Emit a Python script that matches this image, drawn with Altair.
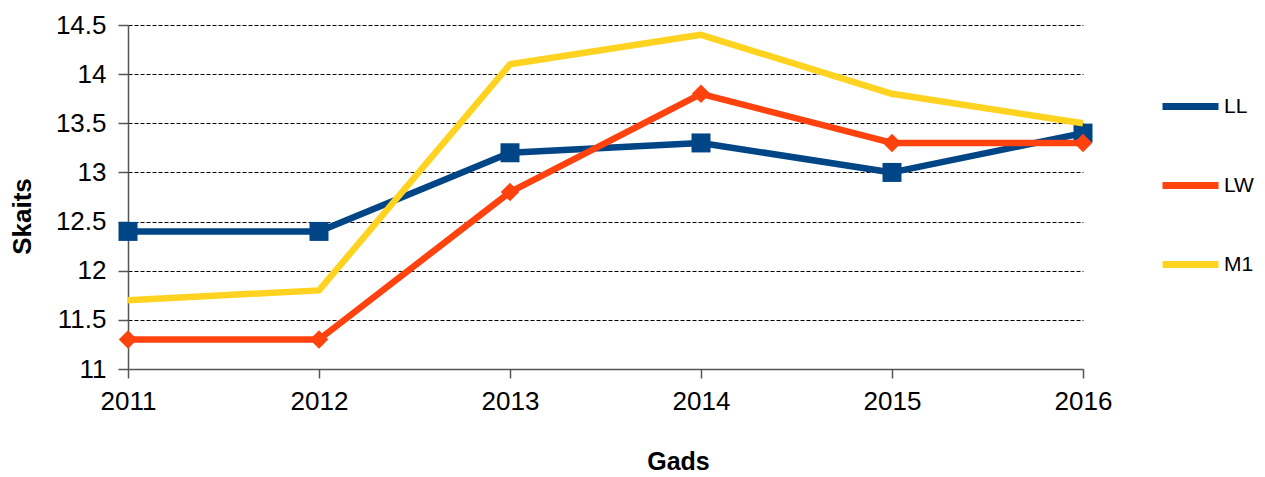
import altair as alt
import pandas as pd

years = [2011, 2012, 2013, 2014, 2015, 2016]
series_names = ["LL", "LW", "M1"]
ll = [12.4, 12.4, 13.2, 13.3, 13.0, 13.4]
lw = [11.3, 11.3, 12.8, 13.8, 13.3, 13.3]
m1 = [11.7, 11.8, 14.1, 14.4, 13.8, 13.5]
colors = ["#004586", "#ff420e", "#ffd320"]
y_ticks = [11, 11.5, 12, 12.5, 13, 13.5, 14, 14.5]

rows = []
for name, vals in zip(series_names, [ll, lw, m1]):
    for y, v in zip(years, vals):
        rows.append({"Gads": y, "Skaits": v, "Series": name})
df = pd.DataFrame(rows)

FONT = "Liberation Sans"

x_enc = alt.X("Gads:Q",
              scale=alt.Scale(domain=[2011, 2016], nice=False, zero=False),
              axis=alt.Axis(values=years, format="d", title="Gads", grid=False,
                            labelFontSize=26, titleFontSize=25, titleFontWeight="bold",
                            labelColor="#000", titleColor="#000", labelFlush=False,
                            domainColor="#555", tickColor="#555", domainWidth=1.5, tickWidth=1.5,
                            tickSize=9, labelPadding=10,
                            titleX=550, titleY=92, titleBaseline="middle"))
y_enc = alt.Y("Skaits:Q",
              scale=alt.Scale(domain=[11, 14.5], nice=False, zero=False),
              axis=alt.Axis(values=y_ticks, format="~g", title="Skaits",
                            grid=True, gridColor="#000", gridDash=[4, 2], gridWidth=1,
                            labelFontSize=26, titleFontSize=26, titleFontWeight="bold",
                            labelColor="#000", titleColor="#000", labelFlush=False,
                            domainColor="#555", tickColor="#555", domainWidth=1.5, tickWidth=1.5,
                            tickSize=10, labelPadding=12,
                            titleX=-106, titleY=191, titleBaseline="middle"))
color_enc = alt.Color("Series:N",
                      scale=alt.Scale(domain=series_names, range=colors),
                      legend=alt.Legend(title=None, orient="none", legendX=1031, legendY=50,
                                        symbolType="stroke", symbolSize=3136, symbolStrokeWidth=7,
                                        labelFontSize=21, labelColor="#000", labelOffset=2,
                                        rowPadding=33, labelFont=FONT))

base = alt.Chart(df)
lines = base.mark_line(strokeWidth=6.5, strokeJoin="round").encode(
    x=x_enc, y=y_enc, color=color_enc, order=alt.Order("Gads:Q"))

ll_pts = base.transform_filter(alt.datum.Series == "LL").mark_point(
    shape="square", size=361, filled=True, opacity=1, color=colors[0]).encode(x="Gads:Q", y="Skaits:Q")
lw_pts = base.transform_filter(alt.datum.Series == "LW").mark_point(
    shape="diamond", size=340, filled=True, opacity=1, color=colors[1]).encode(x="Gads:Q", y="Skaits:Q")

ll_line = lines.transform_filter(alt.datum.Series == "LL")
lw_line = lines.transform_filter(alt.datum.Series == "LW")
m1_line = lines.transform_filter(alt.datum.Series == "M1")

chart = alt.layer(ll_line, ll_pts, lw_line, lw_pts, m1_line).properties(
    width=955, height=344,
    autosize=alt.AutoSizeParams(type="none"),
    padding={"left": 120, "top": 17, "right": 174, "bottom": 108},
).configure(font=FONT).configure_view(stroke=None)

chart.save("out.html", embed_options={"renderer": "svg", "actions": False})
